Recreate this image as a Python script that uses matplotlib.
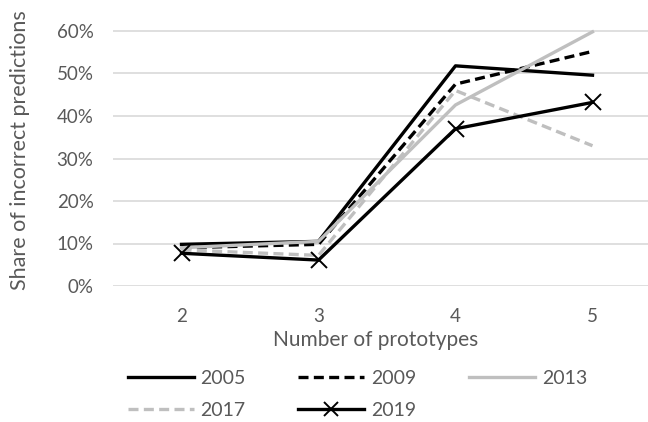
import matplotlib
matplotlib.use('Agg')
from matplotlib import pyplot as plt
from matplotlib.ticker import PercentFormatter

prototypes = ['2', '3', '4', '5']
share_2005 = [0.098, 0.105, 0.518, 0.496]
share_2009 = [0.090, 0.098, 0.475, 0.552]
share_2013 = [0.090, 0.105, 0.426, 0.598]
share_2017 = [0.085, 0.072, 0.460, 0.330]
share_2019 = [0.077, 0.061, 0.370, 0.432]

plt.rcParams['font.family'] = ['Lato', 'DejaVu Sans']
grey_text = '#595959'
dash = (3.0, 1.6)

fig = plt.figure(figsize=(6.48, 4.22), dpi=100)
ax = fig.add_axes([113 / 648, 1 - 286 / 422, 548 / 648, (286 - 22.5) / 422])

x = range(len(prototypes))
l05, = ax.plot(x, share_2005, color='black', lw=2.4, label='2005')
l09, = ax.plot(x, share_2009, color='black', lw=2.4, dashes=dash, label='2009')
l13, = ax.plot(x, share_2013, color='#BFBFBF', lw=2.4, label='2013')
l17, = ax.plot(x, share_2017, color='#BFBFBF', lw=2.4, dashes=dash, label='2017')
l19, = ax.plot(x, share_2019, color='black', lw=2.4, marker='x', markersize=12,
               markeredgewidth=1.4, label='2019')

ax.set_xlim(-0.5, 3.5)
ax.set_ylim(0, 0.62)
ax.set_yticks([0, 0.1, 0.2, 0.3, 0.4, 0.5, 0.6])
ax.yaxis.set_major_formatter(PercentFormatter(1.0, decimals=0))
ax.set_xticks(list(x))
ax.set_xticklabels(prototypes)
ax.grid(axis='y', color='#D9D9D9', lw=1.2)
ax.set_axisbelow(True)
for s in ax.spines.values():
    s.set_visible(False)
ax.tick_params(length=0, colors=grey_text, labelsize=13.5)
ax.tick_params(axis='y', pad=14)
ax.tick_params(axis='x', pad=16)

fig.text(376 / 648, 1 - 340 / 422, 'Number of prototypes', ha='center', va='center',
         color=grey_text, fontsize=15)
fig.text(20 / 648, 1 - 150 / 422, 'Share of incorrect predictions', rotation=90,
         ha='center', va='center', color=grey_text, fontsize=15.5)

# row-major order for the legend
handles = [l05, l17, l09, l19, l13]
leg = fig.legend(handles=handles, labels=[h.get_label() for h in handles],
                 loc='upper left', bbox_to_anchor=(110 / 648, 1 - 352 / 422), ncol=3,
                 frameon=False, fontsize=14, handlelength=3.4, handletextpad=0.35,
                 columnspacing=2.7, labelspacing=0.8)
for t in leg.get_texts():
    t.set_color(grey_text)
for lh in leg.legend_handles:
    lh.set_markersize(10)

fig.savefig('out.png', dpi=100)
